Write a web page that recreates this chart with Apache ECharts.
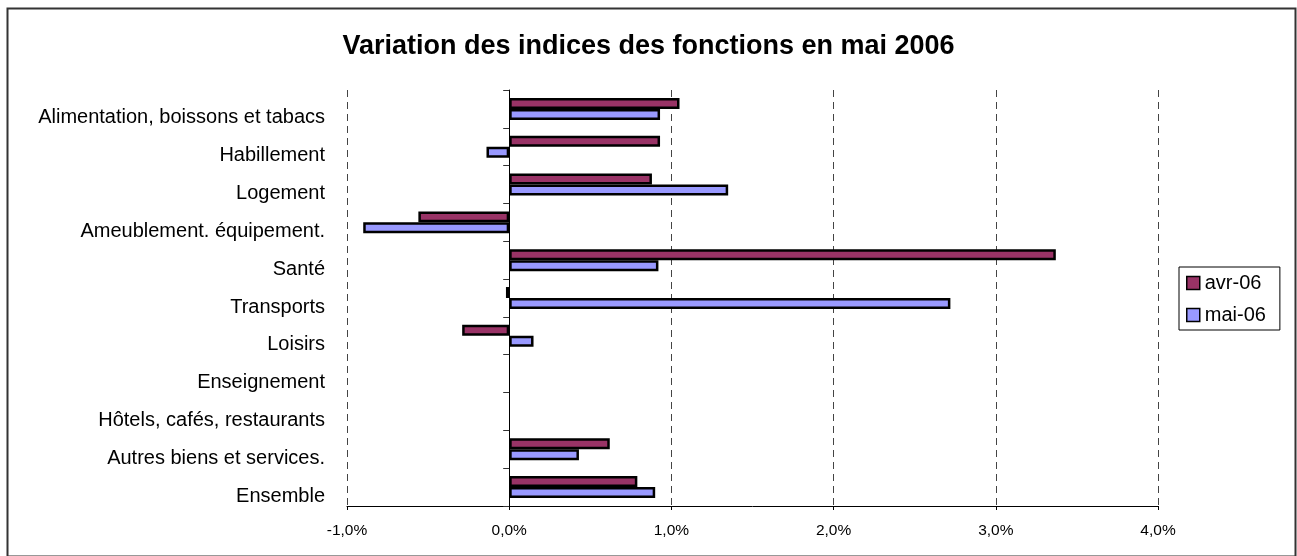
<!DOCTYPE html>
<html>
<head>
<meta charset="utf-8">
<script src="https://cdn.jsdelivr.net/npm/echarts@6/dist/echarts.min.js"></script>
<style>
html,body{margin:0;padding:0;background:#fff;}
#main{width:1297px;height:556px;}
</style>
</head>
<body>
<div id="main"></div>
<script>
// categories, top to bottom
const categories = [
  'Alimentation, boissons et tabacs',
  'Habillement',
  'Logement',
  'Ameublement. équipement.',
  'Santé',
  'Transports',
  'Loisirs',
  'Enseignement',
  'Hôtels, cafés, restaurants',
  'Autres biens et services.',
  'Ensemble'
];
const seriesNames = ['avr-06', 'mai-06'];
// variation in %
const avr06 = [1.05, 0.93, 0.88, -0.56, 3.37, -0.02, -0.29, null, null, 0.62, 0.79];
const mai06 = [0.93, -0.14, 1.35, -0.90, 0.92, 2.72, 0.15, null, null, 0.43, 0.90];
// x axis ticks
const xMin = -1, xMax = 4, xStep = 1;

const font = "'Liberation Sans', Arial, sans-serif";
const fmtPct = v => v.toFixed(1).replace('.', ',') + '%';

const myChart = echarts.init(document.getElementById('main'));

const barStyle = (color) => ({ color: color, borderColor: '#000', borderWidth: 2.5 });

const option = {
  animation: false,
  backgroundColor: '#fff',
  textStyle: { fontFamily: font },
  title: {
    text: 'Variation des indices des fonctions en mai 2006',
    left: 'center',
    top: 28,
    textStyle: { fontFamily: font, fontSize: 27, fontWeight: 'bold', color: '#000' }
  },
  legend: {
    data: seriesNames,
    orient: 'vertical',
    left: 1179,
    top: 267,
    padding: [6, 14, 5, 7],
    itemGap: 12,
    itemWidth: 13,
    itemHeight: 13,
    icon: 'rect',
    borderColor: '#000',
    borderWidth: 1,
    textStyle: { fontFamily: font, fontSize: 20, color: '#000' },
    itemStyle: { borderColor: '#000', borderWidth: 1.5 }
  },
  grid: { left: 347, right: 139, top: 90, bottom: 50 },
  xAxis: {
    type: 'value',
    min: xMin,
    max: xMax,
    interval: xStep,
    axisLine: { show: true, onZero: false, lineStyle: { color: '#000', width: 1 } },
    axisTick: { show: true, length: 4, lineStyle: { color: '#000' } },
    axisLabel: { formatter: fmtPct, fontSize: 15.5, color: '#000', margin: 17, fontFamily: font },
    splitLine: { show: true, lineStyle: { color: '#444', type: [7, 5], width: 1 } }
  },
  yAxis: [
    {
      type: 'category',
      data: categories,
      inverse: true,
      axisLine: { show: false, onZero: false },
      axisTick: { show: false },
      axisLabel: {
        fontSize: 20,
        color: '#000',
        margin: 22,
        verticalAlign: 'top',
        lineHeight: 18,
        fontFamily: font
      },
      splitLine: { show: false }
    },
    {
      type: 'category',
      data: categories,
      inverse: true,
      position: 'left',
      axisLine: { show: true, onZero: true, lineStyle: { color: '#000', width: 1 } },
      axisTick: { show: true, length: 6, lineStyle: { color: '#333' } },
      axisLabel: { show: false },
      splitLine: { show: false }
    }
  ],
  series: [
    {
      name: seriesNames[0],
      type: 'bar',
      yAxisIndex: 0,
      data: avr06,
      barGap: '0%',
      barCategoryGap: '42%',
      itemStyle: barStyle('#993366')
    },
    {
      name: seriesNames[1],
      type: 'bar',
      yAxisIndex: 0,
      data: mai06,
      barGap: '0%',
      barCategoryGap: '42%',
      itemStyle: barStyle('#9999ff')
    }
  ],
  graphic: [
    {
      type: 'rect',
      left: 5,
      top: 6,
      shape: { width: 1288, height: 548 },
      style: { fill: null, stroke: '#333', lineWidth: 2 },
      silent: true
    }
  ]
};

myChart.setOption(option);
</script>
</body>
</html>
